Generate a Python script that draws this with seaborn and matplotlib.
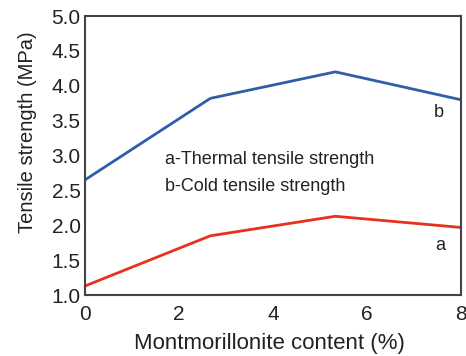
import matplotlib
matplotlib.use("Agg")
import matplotlib.pyplot as plt
import seaborn as sns
import pandas as pd

content = [0, 2.67, 5.33, 8]
cold = [2.65, 3.82, 4.20, 3.80]
thermal = [1.13, 1.85, 2.13, 1.97]
xticks = [0, 2, 4, 6, 8]
yticks = [1.0, 1.5, 2.0, 2.5, 3.0, 3.5, 4.0, 4.5, 5.0]

sns.set_style("white")
plt.rcParams['font.family'] = ['Liberation Sans', 'DejaVu Sans']

df = pd.DataFrame({
    "x": content * 2,
    "y": cold + thermal,
    "s": ["b"] * len(content) + ["a"] * len(content),
})

fig = plt.figure(figsize=(4.66, 3.56), dpi=100)
ax = fig.add_axes([0.182, 0.171, 0.807, 0.784])
sns.lineplot(data=df, x="x", y="y", hue="s", palette={"b": "#2F5DAA", "a": "#E8311C"},
             linewidth=2, ax=ax, legend=False)

ax.set_xlim(0, 8)
ax.set_ylim(1.0, 5.0)
ax.set_xticks(xticks)
ax.set_xticklabels([str(t) for t in xticks])
ax.set_yticks(yticks)
ax.set_yticklabels([f"{t:.1f}" for t in yticks])
ax.tick_params(direction="in", length=4, width=1.2, labelsize=15, colors="#333333",
               top=False, right=False)
ax.tick_params(axis="x", pad=7)
ax.tick_params(axis="y", pad=3)
ax.tick_params(axis="both", labelcolor="#222222")
for sp in ax.spines.values():
    sp.set_color("#444444")
    sp.set_linewidth(1.5)

ax.set_xlabel("Montmorillonite content (%)", fontsize=16, color="#222222")
ax.set_ylabel("Tensile strength (MPa)", fontsize=14.5, color="#222222")
ax.xaxis.set_label_coords(0.49, -0.135)
ax.yaxis.set_label_coords(-0.126, 0.585)

ax.text(1.7, 2.95, "a-Thermal tensile strength", fontsize=13, color="#222222", va="center")
ax.text(1.7, 2.55, "b-Cold tensile strength", fontsize=13, color="#222222", va="center")
ax.text(7.42, 3.62, "b", fontsize=13, color="#222222", va="center")
ax.text(7.45, 1.71, "a", fontsize=13, color="#222222", va="center")

fig.savefig("out.png", dpi=100)
